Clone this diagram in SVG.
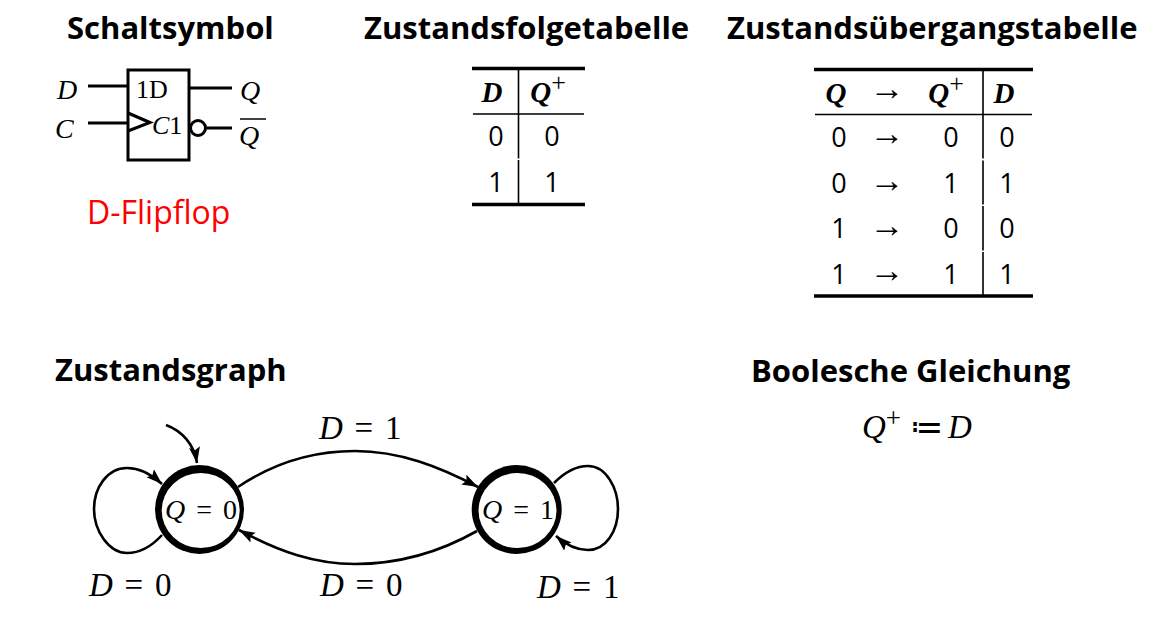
<svg xmlns="http://www.w3.org/2000/svg" width="1162" height="617" viewBox="0 0 1162 617">
<style>
.h{font:700 31px "Open Sans",sans-serif;fill:#000}
.d{font:400 27px "Open Sans",sans-serif;fill:#000;text-anchor:middle}
.th{font:italic 700 29px "Liberation Serif",serif;fill:#000;text-anchor:middle}
.ar{font:400 35px "Liberation Serif",serif;fill:#000;text-anchor:middle}
.m{font:400 33px "Liberation Serif",serif;fill:#000;word-spacing:3.500px}
.s{font:400 26px "Liberation Serif",serif;fill:#000}
.i{font-style:italic}
.n{stroke:#000;fill:none;stroke-width:3}
.t{stroke:#000;fill:none;stroke-width:3.5}
.t2{stroke:#000;fill:none;stroke-width:1.6}
.e{stroke:#000;fill:none;stroke-width:2.6}
.p{font-size:26px;font-weight:400;font-style:normal}
</style>
<defs>
<marker id="a" markerUnits="userSpaceOnUse" markerWidth="17" markerHeight="12" refX="16" refY="5.500" orient="auto"><path d="M0 0L16 5.500L0 11L3 5.500Z" fill="#000"/></marker>
</defs>
<text class="h" x="67" y="39">Schaltsymbol</text>
<text class="h" x="364" y="39">Zustandsfolgetabelle</text>
<text class="h" x="727" y="39">Zustandsübergangstabelle</text>
<text class="h" x="55" y="381">Zustandsgraph</text>
<text class="h" x="751" y="382">Boolesche Gleichung</text>
<g id="schaltsymbol">
<rect class="n" x="128" y="70" width="61" height="90"/>
<path class="n" d="M88 86H128M88 123H128M128 113L150 122.500L128 131M189 88H232M205 128H232"/>
<circle class="n" cx="198" cy="128" r="7.500"/>
<path d="M240 119H266" stroke="#000" stroke-width="1.500"/>
<text class="s i" x="57" y="99" style="font-size:28px">D</text>
<text class="s i" x="55" y="138" style="font-size:28px">C</text>
<text class="s i" x="240" y="100" style="font-size:28px">Q</text>
<text class="s i" x="239" y="145" style="font-size:28px">Q</text>
<text class="s" x="136" y="98">1D</text>
<text class="s" x="152" y="134"><tspan class="i">C</tspan>1</text>
<text x="87" y="224" style="font:400 32px 'Open Sans',sans-serif;fill:#f00">D-Flipflop</text>
</g>
<g id="folgetabelle">
<path class="t" d="M472 68.500H585M472 204.500H585"/>
<path class="t2" d="M473 114H584M518.500 68V158.500M518.500 160V205"/>
<text class="th" x="492" y="102">D</text>
<text class="th" x="548" y="102">Q<tspan class="p" dy="-11">+</tspan></text>
<text class="d" x="496" y="146">0</text><text class="d" x="552" y="146">0</text>
<text class="d" x="496" y="192">1</text><text class="d" x="552" y="192">1</text>
</g>
<g id="uebergangstabelle">
<path class="t" d="M814 69.500H1033M814 296H1033"/>
<path class="t2" d="M815 114.500H1032M983 68V158.500M983 160.500V204.500M983 206V250.500M983 252V297"/>
<text class="th" x="836" y="103">Q</text>
<text class="ar" x="887" y="100">→</text>
<text class="th" x="946" y="103">Q<tspan class="p" dy="-11">+</tspan></text>
<text class="th" x="1004" y="103">D</text>
<text class="d" x="839" y="147">0</text><text class="ar" x="887" y="145">→</text><text class="d" x="951" y="147">0</text><text class="d" x="1007" y="147">0</text>
<text class="d" x="839" y="193">0</text><text class="ar" x="887" y="192">→</text><text class="d" x="951" y="193">1</text><text class="d" x="1007" y="193">1</text>
<text class="d" x="839" y="238">1</text><text class="ar" x="887" y="237">→</text><text class="d" x="951" y="238">0</text><text class="d" x="1007" y="238">0</text>
<text class="d" x="839" y="284">1</text><text class="ar" x="887" y="282">→</text><text class="d" x="951" y="284">1</text><text class="d" x="1007" y="284">1</text>
</g>
<g id="gleichung">
<text class="m" x="862" y="438"><tspan class="i">Q</tspan><tspan font-size="27" dy="-11">+</tspan><tspan x="910" dy="11">≔</tspan><tspan class="i" x="948">D</tspan></text>
</g>
<g id="connectors">
<path class="e" marker-end="url(#a)" d="M166 425C182 431 194 444 197 463"/>
<path class="e" marker-end="url(#a)" d="M162 535C152 546 140 553 127 553C109 553 94 531 94 509C94 488 107 468 127 468C138 468 150 473 162 484"/>
<path class="e" marker-end="url(#a)" d="M554 483C565 472 576 466 588 466C606 466 618 488 618 509C618 531 606 550 588 550C577 550 566 545 556 536"/>
<path class="e" marker-end="url(#a)" d="M238 487C275 462 315 451 355 451C400 451 440 467 478 487"/>
<path class="e" marker-end="url(#a)" d="M477 531C440 552 400 564 355 564C315 564 280 552 239 530"/>
</g>
<g id="q0">
<ellipse cx="199.500" cy="509.500" rx="44.500" ry="44.500" fill="#000"/>
<ellipse cx="200.700" cy="510.500" rx="39" ry="37.500" fill="#fff"/>
<text class="m" x="165" y="519" style="font-size:28px;word-spacing:4px"><tspan class="i">Q</tspan> = 0</text>
</g>
<g id="q1">
<ellipse cx="516.700" cy="509.500" rx="45" ry="44.500" fill="#000"/>
<ellipse cx="517.500" cy="510.500" rx="39" ry="37.500" fill="#fff"/>
<text class="m" x="482" y="519" style="font-size:28px;word-spacing:4px"><tspan class="i">Q</tspan> = 1</text>
</g>
<g id="labels">
<text class="m" x="319" y="439"><tspan class="i">D</tspan> = 1</text>
<text class="m" x="320" y="596"><tspan class="i">D</tspan> = 0</text>
<text class="m" x="89" y="596"><tspan class="i">D</tspan> = 0</text>
<text class="m" x="537" y="598"><tspan class="i">D</tspan> = 1</text>
</g>
</svg>
